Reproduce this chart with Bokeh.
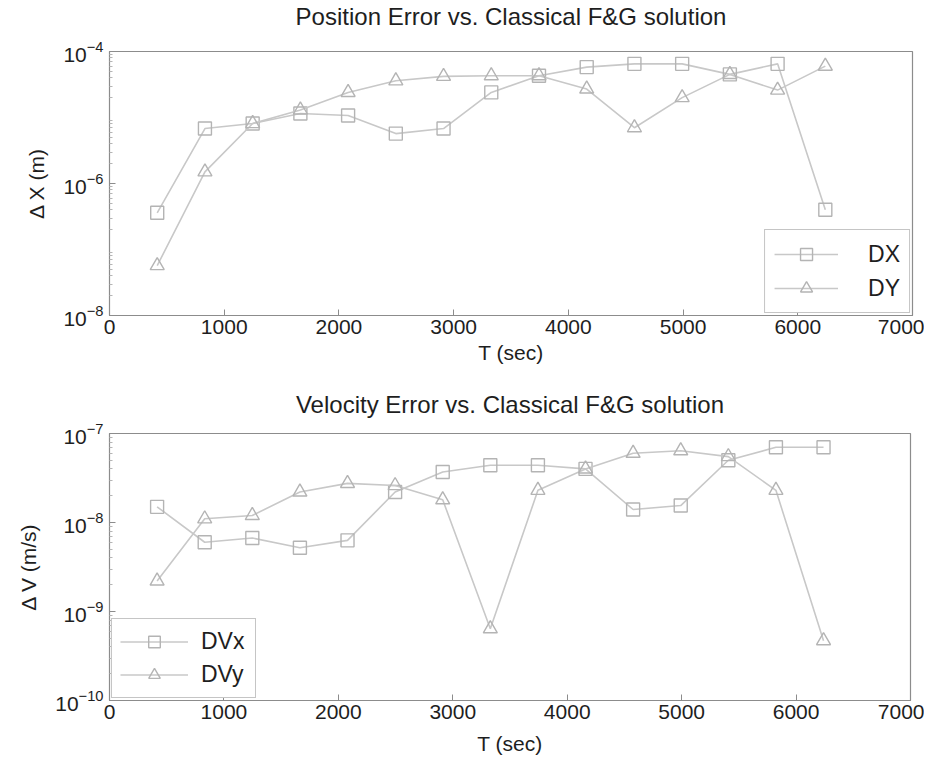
from bokeh.plotting import figure
from bokeh.layouts import column
from bokeh.models import FixedTicker, LogTickFormatter, Legend, LegendItem
from bokeh.embed import file_html
from bokeh.resources import INLINE

# ---- data ----
t_sec = [416, 832, 1248, 1664, 2080, 2496, 2912, 3328, 3744, 4160, 4576, 4992, 5408, 5824, 6240]

dx = [3.6e-7, 6.8e-6, 8.1e-6, 1.15e-5, 1.07e-5, 5.7e-6, 6.8e-6, 2.4e-5, 4.3e-5, 5.8e-5, 6.5e-5, 6.5e-5, 4.5e-5, 6.5e-5, 4.0e-7]
dy = [5.7e-8, 1.5e-6, 8.1e-6, 1.3e-5, 2.4e-5, 3.6e-5, 4.2e-5, 4.3e-5, 4.3e-5, 2.7e-5, 7.0e-6, 2.0e-5, 4.5e-5, 2.6e-5, 6.0e-5]

dvx = [1.5e-8, 6.0e-9, 6.7e-9, 5.2e-9, 6.3e-9, 2.2e-8, 3.7e-8, 4.4e-8, 4.4e-8, 4.0e-8, 1.4e-8, 1.55e-8, 5.0e-8, 7.0e-8, 7.0e-8]
dvy = [2.2e-9, 1.1e-8, 1.2e-8, 2.2e-8, 2.75e-8, 2.6e-8, 1.8e-8, 6.4e-10, 2.3e-8, 4.0e-8, 6.0e-8, 6.4e-8, 5.5e-8, 2.3e-8, 4.7e-10]

x_ticks = [0, 1000, 2000, 3000, 4000, 5000, 6000, 7000]
pos_decades = [-8, -7, -6, -5, -4]
pos_major = [1e-8, 1e-6, 1e-4]
vel_decades = [-10, -9, -8, -7]
vel_major = [1e-10, 1e-9, 1e-8, 1e-7]

FONT = "Liberation Sans"
TXT = "#1e1e1e"
BOX = "#8c8c8c"
LINE = "#c8c8c8"
MARK = "#b4b4b4"


def minor_list(decades):
    out = []
    for d in decades[:-1]:
        for m in range(2, 10):
            out.append(m * 10.0 ** d)
    return out


def make_fig(title, ylabel, y_rng, major, decades, fw, fh, bl, br, bt, bb, tstand, tlh, xstand):
    p = figure(frame_width=fw, frame_height=fh, x_range=(0, 7000), y_range=y_rng,
               y_axis_type="log", output_backend="svg", toolbar_location=None,
               min_border_left=bl, min_border_right=br, min_border_top=bt, min_border_bottom=bb,
               background_fill_color="white", border_fill_color="white")
    p.title.text = title
    p.title.align = "center"
    p.title.text_font = FONT
    p.title.text_font_size = "24px"
    p.title.text_font_style = "normal"
    p.title.text_color = TXT
    p.title.text_line_height = tlh
    p.title.standoff = tstand
    p.grid.visible = False
    p.outline_line_color = BOX
    p.outline_line_width = 1.2

    p.xaxis.ticker = FixedTicker(ticks=x_ticks)
    p.yaxis.ticker = FixedTicker(ticks=major, minor_ticks=minor_list(decades))
    p.yaxis.formatter = LogTickFormatter()
    for ax in (p.xaxis[0], p.yaxis[0]):
        ax.axis_line_color = BOX
        ax.major_tick_line_color = BOX
        ax.minor_tick_line_color = "#b5b5b5"
        ax.major_tick_in = 6
        ax.major_tick_out = 0
        ax.minor_tick_in = 3
        ax.minor_tick_out = 0
        ax.major_label_text_font = FONT
        ax.major_label_text_font_size = "21px"
        ax.major_label_text_color = TXT
        ax.axis_label_text_font = FONT
        ax.axis_label_text_font_size = "21px"
        ax.axis_label_text_font_style = "normal"
        ax.axis_label_text_color = TXT
    p.xaxis.axis_label = "T (sec)"
    p.xaxis.axis_label_standoff = xstand
    p.xaxis.major_label_standoff = 4
    p.yaxis.axis_label = ylabel
    p.yaxis.axis_label_standoff = 12
    p.yaxis.major_label_standoff = 6
    return p


def add_series(p, y1, y2, n1, n2, loc, glyph_w, standoff, pad, lh, lw):
    l1 = p.line(t_sec, y1, line_color=LINE, line_width=1.6)
    s1 = p.scatter(t_sec, y1, marker="square", size=13, line_color=MARK, line_width=1.4, fill_color=None)
    l2 = p.line(t_sec, y2, line_color=LINE, line_width=1.6)
    s2 = p.scatter(t_sec, y2, marker="triangle", size=14, line_color=MARK, line_width=1.4, fill_color=None)
    leg = Legend(items=[LegendItem(label=n1, renderers=[l1, s1]),
                        LegendItem(label=n2, renderers=[l2, s2])],
                 location=loc, margin=2, padding=pad, spacing=4,
                 glyph_width=glyph_w, glyph_height=lh, label_height=lh,
                 label_standoff=standoff, label_width=lw,
                 label_text_font=FONT, label_text_font_size="23px", label_text_color=TXT,
                 border_line_color=BOX, border_line_width=1.2,
                 background_fill_color="white", background_fill_alpha=1.0)
    p.add_layout(leg, "center")


p1 = make_fig("Position Error vs. Classical F&G solution\n", "\u0394 X (m)", (1e-8, 1e-4),
              pos_major, pos_decades, 803, 264, 109, 12, 49, 57, 0, 0.8, 4)
add_series(p1, dx, dy, "DX", "DY", "bottom_right", 64, 30, 9, 30, 20)

p2 = make_fig("Velocity Error vs. Classical F&G solution", "\u0394 V (m/s)", (1e-10, 1e-7),
              vel_major, vel_decades, 801, 267, 106, 17, 61, 64, 32, 1.0, 10)
add_series(p2, dvx, dvy, "DVx", "DVy", "bottom_left", 68, 13, 8, 29, 46)

layout = column(p1, p2, spacing=0)
open("out.html", "w").write(file_html(layout, INLINE))
